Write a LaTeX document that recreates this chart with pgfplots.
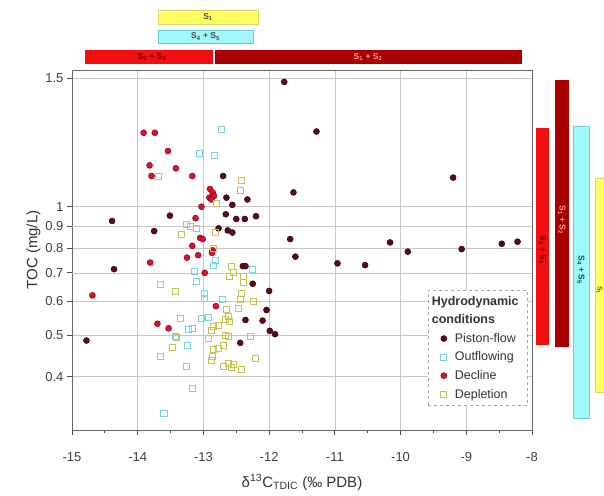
\documentclass[border=0pt]{standalone}
\usepackage{fontspec}
\setmainfont{Liberation Sans}
\usepackage{pgfplots}
\pgfplotsset{compat=1.18}
\definecolor{piston}{HTML}{5A0A1C}
\definecolor{pistonE}{HTML}{2E0008}
\definecolor{decl}{HTML}{D9122E}
\definecolor{declE}{HTML}{8C0018}
\definecolor{outf}{HTML}{78D4DE}
\definecolor{depl}{HTML}{C6C452}
\definecolor{ybar}{HTML}{FFFF66}
\definecolor{ybarE}{HTML}{D8D860}
\definecolor{cbar}{HTML}{A0F8F8}
\definecolor{cbarE}{HTML}{70CCCC}
\definecolor{rbar}{HTML}{F20F0F}
\definecolor{dbar}{HTML}{A80000}
\begin{document}
\begin{tikzpicture}[x=1pt,y=1pt]
\useasboundingbox (-72,-65) rectangle (532,430);
\begin{axis}[
  at={(0,0)}, anchor=south west,
  width=460pt, height=360pt, scale only axis,
  xmin=-15, xmax=-8,
  ymode=log, ymin=0.3, ymax=2.09,
  xtick={-15,-14,-13,-12,-11,-10,-9,-8},
  xticklabels={-15,-14,-13,-12,-11,-10,-9,-8},
  minor x tick num=1,
  ytick={0.4,0.5,0.6,0.8,1,2},
  yticklabels={0.4,0.5,0.6,0.8,1,1.5},
  extra y ticks={0.7,0.9},
  extra y tick labels={0.7,0.9},
  extra y tick style={grid style={gray!30}},
  tick pos=left,
  tick align=outside,
  major tick length=5pt, minor tick length=3pt,
  tick style={black!70, line width=0.8pt},
  grid=major,
  major grid style={gray!45, line width=0.5pt},
  axis line style={black!60, line width=0.8pt},
  ticklabel style={font=\fontsize{13}{15}\selectfont, text=black!75},
  xticklabel style={yshift=-14pt},
  xlabel={δ\textsuperscript{13}C\textsubscript{TDIC} (‰ PDB)},
  ylabel={TOC (mg/L)},
  label style={font=\fontsize{15}{17}\selectfont, text=black!80},
  xlabel style={yshift=-6pt},
  ylabel style={yshift=-12pt},
  clip=false,
  legend style={at={(0.991,0.389)}, anchor=north east, draw=gray!70, dashed,
    font=\fontsize{12.5}{14}\selectfont, text=black!80, row sep=4pt,
    column sep=6pt, inner xsep=7pt, inner ysep=4pt},
  legend cell align=left,
]
\addlegendimage{empty legend}\addlegendentry{\hspace*{-23pt}\textbf{Hydrodynamic}}
\addlegendimage{empty legend}\addlegendentry{\hspace*{-23pt}\textbf{conditions}}
\addplot[only marks, color=piston, mark=*, mark size=3pt, mark options={solid, fill=piston, draw=pistonE, line width=0.5pt}] coordinates {
(-11.77,1.96) (-11.28,1.50) (-11.63,1.08) (-9.20,1.17) (-11.68,0.84)
(-11.60,0.764) (-10.96,0.737) (-10.54,0.73) (-10.16,0.825) (-9.89,0.785)
(-9.07,0.796) (-8.46,0.819) (-8.22,0.828) (-14.39,0.926) (-13.75,0.877)
(-13.51,0.953) (-12.70,1.18) (-12.65,1.05) (-12.56,1.01) (-12.33,1.04)
(-12.66,0.96) (-12.50,0.936) (-12.37,0.936) (-12.20,0.95) (-12.77,0.89)
(-12.63,0.88) (-12.56,0.87) (-14.78,0.486) (-14.36,0.714) (-12.40,0.726)
(-12.36,0.726) (-12.25,0.66) (-12.00,0.635) (-12.04,0.573) (-12.36,0.543)
(-12.10,0.541) (-11.99,0.512) (-11.91,0.503) (-12.44,0.48)
};
\addlegendentry{Piston-flow}
\addplot[only marks, color=outf, mark=square, mark size=3pt, mark options={solid, draw=outf, line width=1pt}] coordinates {
(-12.73,1.52) (-13.06,1.33) (-12.83,1.32) (-13.20,0.90) (-13.10,0.89)
(-13.65,0.656) (-13.13,0.707) (-13.11,0.667) (-12.99,0.627) (-12.99,0.61)
(-12.71,0.607) (-12.85,0.73) (-13.35,0.548) (-13.23,0.516) (-13.16,0.519)
(-13.43,0.496) (-13.25,0.472) (-12.93,0.492) (-12.77,0.466) (-13.26,0.422)
(-13.03,0.548) (-12.93,0.551) (-12.25,0.714) (-13.60,0.328) (-12.82,0.75)
};
\addlegendentry{Outflowing}
\addplot[only marks, color=decl, mark=*, mark size=3pt, mark options={solid, fill=decl, draw=declE, line width=0.5pt}] coordinates {
(-13.91,1.49) (-13.74,1.49) (-13.54,1.35) (-13.82,1.25) (-13.42,1.23)
(-13.79,1.18) (-13.17,1.18) (-12.90,1.10) (-12.86,1.08) (-12.91,1.05)
(-12.84,1.06) (-12.88,1.04) (-13.03,1.00) (-13.12,0.94) (-13.05,0.845)
(-13.01,0.84) (-13.17,0.81) (-12.86,0.79) (-13.25,0.76) (-13.08,0.77)
(-12.87,0.78) (-12.98,0.70) (-12.81,0.585) (-13.70,0.532) (-13.53,0.519)
(-13.81,0.74) (-14.69,0.62)
};
\addlegendentry{Decline}
\addplot[only marks, color=depl, mark=square, mark size=3pt, mark options={solid, draw=depl, line width=1pt}] coordinates {
(-12.42,1.15) (-12.44,1.09) (-13.26,0.91) (-13.33,0.86) (-12.82,0.87)
(-12.80,1.02) (-13.69,1.18) (-13.43,0.632) (-12.57,0.724) (-12.60,0.686)
(-12.39,0.686) (-12.39,0.664) (-12.42,0.627) (-12.44,0.605) (-12.47,0.578)
(-12.24,0.60) (-12.65,0.573) (-12.62,0.553) (-12.67,0.543) (-12.60,0.538)
(-12.85,0.524) (-12.77,0.528) (-12.87,0.514) (-12.67,0.50) (-12.62,0.496)
(-12.29,0.496) (-12.21,0.44) (-13.66,0.447) (-13.47,0.468) (-13.41,0.495)
(-12.84,0.462) (-12.86,0.445) (-12.87,0.437) (-12.70,0.422) (-12.62,0.43)
(-12.55,0.426) (-12.42,0.416) (-12.58,0.421) (-13.17,0.376) (-12.70,0.474)
(-12.55,0.70) (-12.85,0.80)
};
\addlegendentry{Depletion}
\end{axis}
% top range bars
\begin{scope}[font=\fontsize{8.5}{9}\selectfont\bfseries]
\draw[ybarE, fill=ybar, line width=0.6pt] (86,406) rectangle (186,420);
\node[text=black!70] at (136,413) {S\textsubscript{1}};
\draw[cbarE, fill=cbar, line width=0.6pt] (86,387) rectangle (181,400);
\node[text=black!70] at (133.5,393.5) {S\textsubscript{4} + S\textsubscript{5}};
\fill[rbar] (13,366) rectangle (141,380);
\node[text=dbar!70!black] at (80,373) {S\textsubscript{2} + S\textsubscript{3}};
\fill[dbar] (143,366) rectangle (450,380);
\node[text=red!40] at (296,373) {S\textsubscript{1} + S\textsubscript{2}};
% right range bars
\fill[rbar] (464,85) rectangle (477,302);
\node[text=dbar!70!black, rotate=-90] at (470.5,180) {S\textsubscript{2} + S\textsubscript{3}};
\fill[dbar] (483,83) rectangle (497,350);
\node[text=red!40, rotate=-90] at (490,210) {S\textsubscript{1} + S\textsubscript{2}};
\draw[cbarE, fill=cbar, line width=0.6pt] (501,12) rectangle (517,304);
\node[text=teal!70!black, rotate=-90] at (509,160) {S\textsubscript{4} + S\textsubscript{5}};
\draw[ybarE, fill=ybar, line width=0.6pt] (523,38) rectangle (545,252);
\node[text=olive!70!black, rotate=-90, inner sep=0pt, font=\fontsize{7}{8}\selectfont\bfseries] at (527.5,140) {S\textsubscript{1}};
\end{scope}
\end{tikzpicture}
\end{document}
